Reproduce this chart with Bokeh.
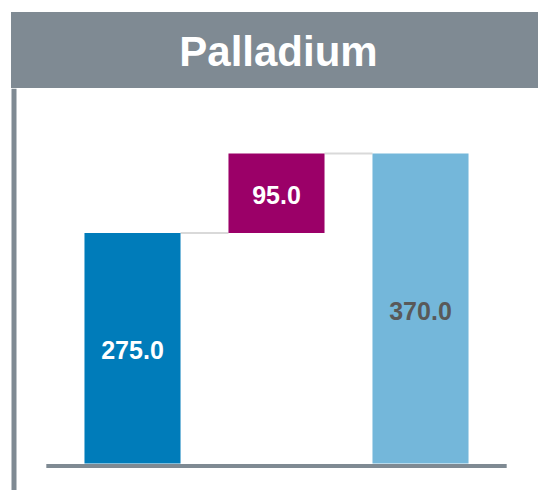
from bokeh.plotting import figure
from bokeh.models import Range1d, Span, Div, ColumnDataSource
from bokeh.layouts import column
from bokeh.core.properties import value
from bokeh.embed import file_html
from bokeh.resources import INLINE

# Waterfall data: opening value, change, closing value
stages = ["Start", "Change", "End"]
amounts = [275.0, 95.0, 370.0]
kinds = ["total", "delta", "total"]
bar_colors = ["#007cba", "#9b0068", "#74b7da"]
label_colors = ["#ffffff", "#ffffff", "#595959"]

title_text = "Palladium"
grey = "#7f8a93"
connector_grey = "#d9d9d9"
font = "Liberation Sans"

# cumulative bottoms / tops for the waterfall
xs, bottoms, tops = [], [], []
running = 0.0
for i, (amt, kind) in enumerate(zip(amounts, kinds)):
    xs.append(i)
    if kind == "total":
        bottoms.append(0.0)
        tops.append(amt)
        running = amt
    else:
        bottoms.append(running)
        tops.append(running + amt)
        running += amt

bar_width = 0.667
mids = [(b + t) / 2 for b, t in zip(bottoms, tops)]
labels = [f"{a:.1f}" for a in amounts]

src = ColumnDataSource(dict(x=xs, bottom=bottoms, top=tops, mid=mids,
                            color=bar_colors, label=labels, lcolor=label_colors))

header = Div(text=title_text, width=527, height=76, margin=(12, 0, 0, 11),
             styles={"background-color": grey, "color": "white",
                     "font-family": "'Liberation Sans', Arial, sans-serif",
                     "font-weight": "bold", "font-size": "42px",
                     "text-align": "center", "line-height": "76px",
                     "padding-left": "8px", "padding-top": "2px",
                     "box-sizing": "border-box", "overflow": "hidden"})

# px per unit: 310 px for 370 units; zero sits 27 px above the bottom
scale = 310.0 / 370.0
y0 = -27.0 / scale
y1 = y0 + 402.0 / scale

p = figure(width=538, height=402, output_backend="svg", toolbar_location=None,
           x_range=Range1d(-132.0 / 144.0, 406.0 / 144.0),
           y_range=Range1d(y0, y1),
           x_axis_location=None, y_axis_location=None,
           min_border=0, min_border_left=0, min_border_right=0,
           min_border_top=0, min_border_bottom=0)
p.grid.visible = False
p.outline_line_color = None
p.background_fill_color = "white"
p.border_fill_color = "white"

# left rule running down from the header
p.add_layout(Span(location=13.5, location_units="screen", dimension="height",
                  line_color=grey, line_width=5))

# connectors from each bar top to the next bar
cx0 = [xs[i] + bar_width / 2 for i in range(len(xs) - 1)]
cx1 = [xs[i + 1] - bar_width / 2 for i in range(len(xs) - 1)]
cy = [tops[i] for i in range(len(xs) - 1)]
p.segment(x0=cx0, y0=cy, x1=cx1, y1=cy, line_color=connector_grey, line_width=2)

p.vbar(x="x", bottom="bottom", top="top", width=bar_width, fill_color="color",
       line_color=None, source=src)

# base line under the bars, sitting just below zero
pad = 0.265
base_y = -2.4 / scale
p.segment(x0=[xs[0] - bar_width / 2 - pad], y0=[base_y],
          x1=[xs[-1] + bar_width / 2 + pad], y1=[base_y],
          line_color=grey, line_width=4)

p.text(x="x", y="mid", text="label", text_color="lcolor", source=src,
       text_align="center", text_baseline="middle",
       text_font=value(font), text_font_style="bold", text_font_size="25px",
       y_offset=2)

layout = column(header, p, spacing=0)
open("out.html", "w").write(file_html(layout, INLINE))
